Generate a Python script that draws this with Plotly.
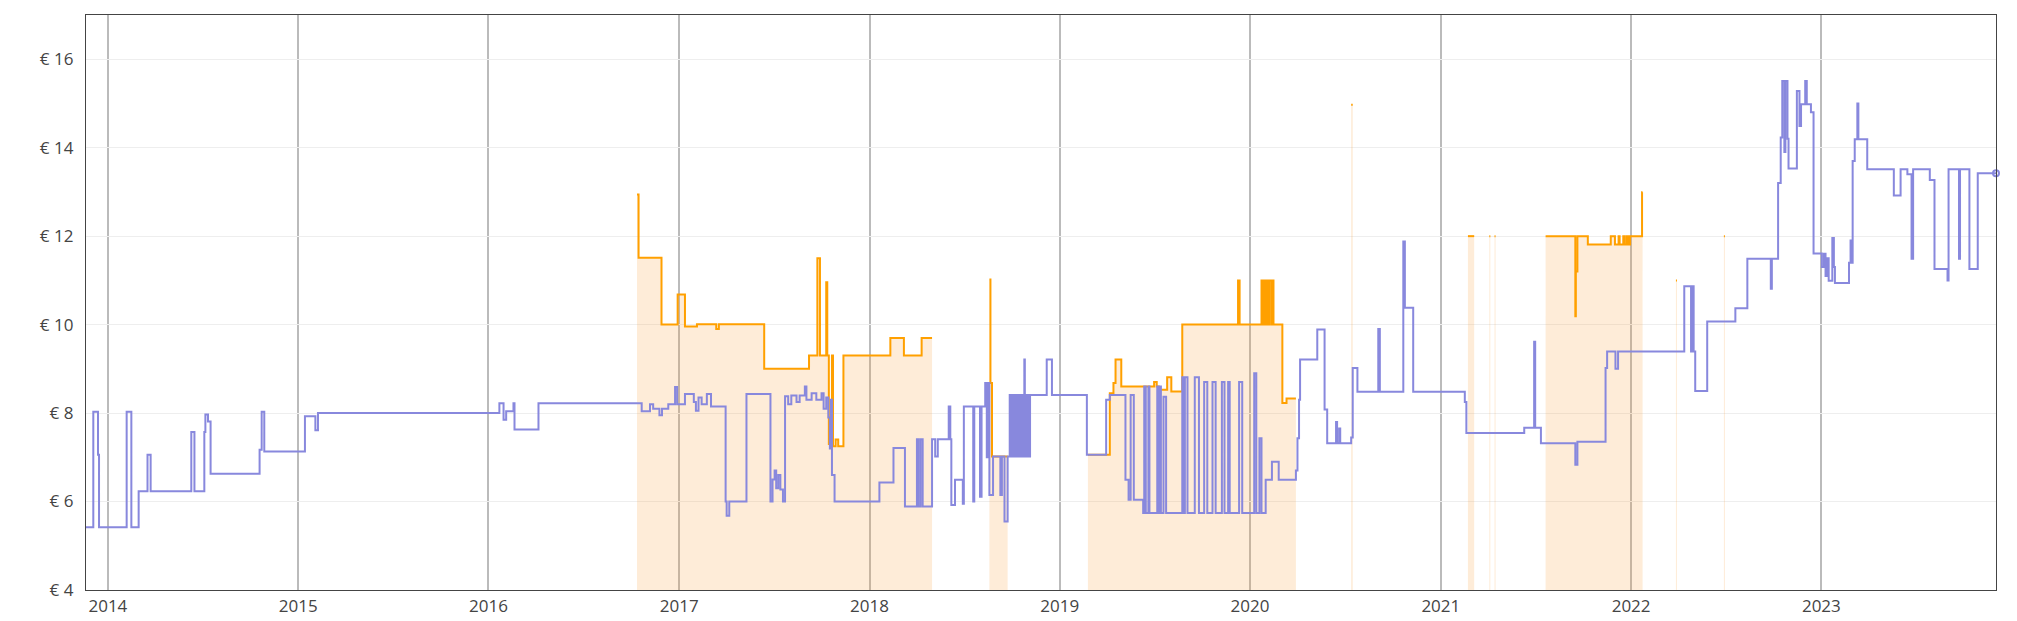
import plotly.graph_objects as go

# price history
new_dates = [
    "2013-11-20", "2013-12-04", "2013-12-13", "2013-12-15", "2014-02-06", "2014-02-15",
    "2014-03-01", "2014-03-18", "2014-03-24", "2014-06-10", "2014-06-16", "2014-07-05",
    "2014-07-07", "2014-07-12", "2014-07-17", "2014-10-19", "2014-10-23", "2014-10-28",
    "2015-01-14", "2015-02-03", "2015-02-08", "2016-01-22", "2016-01-30", "2016-02-04",
    "2016-02-18", "2016-02-20", "2016-04-06", "2016-10-21", "2016-11-06", "2016-11-12",
    "2016-11-24", "2016-11-29", "2016-12-11", "2016-12-24", "2016-12-28", "2017-01-12",
    "2017-01-29", "2017-02-02", "2017-02-07", "2017-02-13", "2017-02-23", "2017-03-03",
    "2017-03-31", "2017-04-02", "2017-04-07", "2017-05-10", "2017-06-25", "2017-06-29",
    "2017-07-03", "2017-07-06", "2017-07-10", "2017-07-14", "2017-07-19", "2017-07-23",
    "2017-07-29", "2017-08-04", "2017-08-14", "2017-08-20", "2017-08-30", "2017-09-02",
    "2017-09-12", "2017-09-21", "2017-10-01", "2017-10-05", "2017-10-10", "2017-10-14",
    "2017-10-17", "2017-10-19", "2017-10-21", "2017-10-26", "2018-01-20", "2018-02-16",
    "2018-03-10", "2018-04-02", "2018-04-05", "2018-04-09", "2018-04-13", "2018-05-01",
    "2018-05-07", "2018-05-12", "2018-06-02", "2018-06-05", "2018-06-07", "2018-06-14",
    "2018-06-29", "2018-07-01", "2018-07-19", "2018-07-21", "2018-08-01", "2018-08-04",
    "2018-08-11", "2018-08-14", "2018-08-17", "2018-08-19", "2018-08-26", "2018-09-09",
    "2018-09-12", "2018-09-17", "2018-09-23", "2018-09-27", "2018-09-29", "2018-10-01",
    "2018-10-03", "2018-10-05", "2018-10-07", "2018-10-09", "2018-10-11", "2018-10-13",
    "2018-10-15", "2018-10-17", "2018-10-19", "2018-10-21", "2018-10-23", "2018-10-25",
    "2018-10-26", "2018-10-28", "2018-10-30", "2018-11-01", "2018-11-03", "2018-11-05",
    "2018-12-07", "2018-12-17", "2019-02-22", "2019-03-31", "2019-04-07", "2019-05-07",
    "2019-05-13", "2019-05-17", "2019-05-23", "2019-06-10", "2019-06-12", "2019-06-15",
    "2019-06-20", "2019-06-22", "2019-07-07", "2019-07-10", "2019-07-12", "2019-07-14",
    "2019-07-19", "2019-07-24", "2019-08-24", "2019-08-27", "2019-08-29", "2019-09-03",
    "2019-09-17", "2019-09-25", "2019-10-05", "2019-10-11", "2019-10-21", "2019-10-27",
    "2019-11-08", "2019-11-13", "2019-11-20", "2019-11-23", "2019-12-11", "2019-12-17",
    "2020-01-09", "2020-01-13", "2020-01-19", "2020-01-23", "2020-01-31", "2020-02-12",
    "2020-02-25", "2020-03-29", "2020-04-01", "2020-04-04", "2020-04-06", "2020-05-09",
    "2020-05-23", "2020-05-28", "2020-06-14", "2020-06-16", "2020-06-20", "2020-06-22",
    "2020-07-13", "2020-07-16", "2020-07-25", "2020-09-03", "2020-09-06", "2020-10-21",
    "2020-10-24", "2020-11-09", "2021-02-16", "2021-02-19", "2021-06-10", "2021-06-29",
    "2021-07-01", "2021-07-12", "2021-09-16", "2021-09-20", "2021-11-13", "2021-11-16",
    "2021-12-02", "2021-12-07", "2022-04-13", "2022-04-26", "2022-04-28", "2022-05-01",
    "2022-05-04", "2022-05-27", "2022-07-20", "2022-08-12", "2022-09-26", "2022-09-28",
    "2022-10-10", "2022-10-15", "2022-10-18", "2022-10-22", "2022-10-24", "2022-10-28",
    "2022-10-30", "2022-11-15", "2022-11-20", "2022-11-23", "2022-12-01", "2022-12-04",
    "2022-12-12", "2022-12-17", "2023-01-02", "2023-01-06", "2023-01-09", "2023-01-12",
    "2023-01-15", "2023-01-22", "2023-01-25", "2023-01-27", "2023-02-23", "2023-02-26",
    "2023-03-01", "2023-03-02", "2023-03-06", "2023-03-11", "2023-03-13", "2023-03-30",
    "2023-05-20", "2023-06-02", "2023-06-15", "2023-06-23", "2023-06-26", "2023-07-28",
    "2023-08-06", "2023-08-31", "2023-09-02", "2023-09-22", "2023-09-24", "2023-10-12",
    "2023-10-28", "2023-12-02",
]
new_prices = [
    5.42, 8.03, 7.06, 5.42, 8.03, 5.42,
    6.23, 7.06, 6.23, 7.57, 6.23, 7.57,
    7.97, 7.81, 6.63, 7.17, 8.03, 7.13,
    7.93, 7.61, 8.00, 8.22, 7.85, 8.04,
    8.22, 7.63, 8.22, 8.04, 8.20, 8.10,
    7.95, 8.10, 8.20, 8.59, 8.20, 8.43,
    8.25, 8.05, 8.35, 8.20, 8.43, 8.15,
    6.00, 5.68, 6.00, 8.43, 6.00, 6.50,
    6.70, 6.30, 6.60, 6.27, 6.00, 8.38,
    8.20, 8.40, 8.25, 8.40, 8.60, 8.30,
    8.45, 8.30, 8.45, 8.10, 8.35, 7.90,
    7.20, 8.30, 6.60, 6.00, 6.43, 7.21,
    5.89, 7.41, 5.89, 7.41, 5.89, 7.41,
    7.02, 7.41, 8.15, 7.41, 5.92, 6.49,
    5.95, 8.15, 6.00, 8.15, 6.11, 8.15,
    8.68, 7.00, 8.68, 6.15, 7.02, 6.15,
    7.02, 5.55, 7.02, 8.41, 7.02, 8.41,
    7.02, 8.41, 7.02, 8.41, 7.02, 8.41,
    7.02, 8.41, 7.02, 8.41, 7.02, 9.21,
    7.02, 8.41, 7.02, 8.41, 7.02, 8.41,
    9.21, 8.41, 7.06, 8.30, 8.41, 6.49,
    6.04, 8.41, 6.04, 5.74, 8.60, 5.74,
    8.60, 5.74, 8.60, 5.74, 8.60, 5.74,
    8.37, 5.74, 8.81, 5.74, 8.81, 5.74,
    8.81, 5.74, 8.70, 5.74, 8.70, 5.74,
    8.70, 5.74, 8.70, 5.74, 8.70, 5.74,
    8.90, 5.74, 7.43, 5.74, 6.49, 6.90,
    6.49, 6.70, 7.43, 8.30, 9.21, 9.89,
    8.08, 7.32, 7.80, 7.32, 7.65, 7.32,
    7.45, 9.02, 8.48, 9.90, 8.48, 11.88,
    10.38, 8.48, 8.25, 7.55, 7.67, 9.61,
    7.67, 7.32, 6.83, 7.35, 9.02, 9.39,
    9.00, 9.39, 10.87, 9.39, 10.87, 9.39,
    8.50, 10.07, 10.37, 11.49, 10.81, 11.49,
    13.20, 14.23, 15.51, 13.90, 15.51, 14.20,
    13.53, 15.28, 14.49, 14.98, 15.51, 14.98,
    14.80, 11.61, 11.30, 11.60, 11.10, 11.50,
    10.99, 11.96, 11.30, 10.94, 11.40, 11.90,
    11.40, 13.70, 14.19, 15.00, 14.19, 13.51,
    12.92, 13.51, 13.40, 11.49, 13.51, 13.27,
    11.26, 11.00, 13.51, 11.49, 13.51, 11.26,
    13.42, 13.42,
]

# Amazon price, None marks the periods without an offer
amazon_dates = [
    "2016-10-12", "2016-10-15", "2016-11-28", "2016-12-29", "2017-01-12", "2017-02-04",
    "2017-03-13", "2017-03-18", "2017-06-13", "2017-09-07", "2017-09-23", "2017-09-28",
    "2017-10-10", "2017-10-12", "2017-10-15", "2017-10-21", "2017-10-23", "2017-10-28",
    "2017-11-02", "2017-11-12", "2018-02-10", "2018-03-08", "2018-04-11", "2018-05-01",
    "2018-05-02",
    "2018-08-19", "2018-08-21", "2018-08-24", "2018-09-23", "2018-09-24",
    "2019-02-24", "2019-04-07", "2019-04-14", "2019-04-18", "2019-04-29", "2019-07-01",
    "2019-07-06", "2019-07-10", "2019-07-26", "2019-08-03", "2019-08-24", "2019-12-09",
    "2019-12-12", "2020-01-23", "2020-01-25", "2020-01-28", "2020-01-31", "2020-02-02",
    "2020-02-05", "2020-02-07", "2020-02-11", "2020-02-13", "2020-02-15", "2020-03-03",
    "2020-03-11", "2020-03-29", "2020-03-30",
    "2020-07-13", "2020-07-16", "2020-07-17",
    "2021-02-22", "2021-03-06", "2021-03-07",
    "2021-04-04", "2021-04-06", "2021-04-07",
    "2021-04-14", "2021-04-16", "2021-04-17",
    "2021-07-21", "2021-09-16", "2021-09-17", "2021-09-20", "2021-10-10", "2021-11-23",
    "2021-12-01", "2021-12-08", "2021-12-10", "2021-12-17", "2021-12-20", "2021-12-24",
    "2021-12-27", "2021-12-30", "2022-01-22", "2022-01-23", "2022-01-24",
    "2022-03-28", "2022-03-30", "2022-03-31",
    "2022-06-28", "2022-06-30",
]
amazon_prices = [
    12.94, 11.51, 10.00, 10.68, 9.96, 10.01,
    9.90, 10.01, 9.00, 9.30, 11.50, 9.30,
    10.96, 9.30, 7.30, 9.30, 7.25, 7.40,
    7.25, 9.30, 9.70, 9.30, 9.70, 9.70,
    None,
    11.02, 8.68, 7.02, 7.02, None,
    7.06, 8.45, 8.68, 9.21, 8.60, 8.70,
    8.60, 8.53, 8.81, 8.49, 10.00, 11.00,
    10.00, 11.00, 10.00, 11.00, 10.00, 11.00,
    10.00, 11.00, 10.00, 11.00, 10.00, 8.23,
    8.33, 8.33, None,
    14.97, 14.97, None,
    12.00, 12.00, None,
    12.00, 12.00, None,
    12.00, 12.00, None,
    12.00, 10.19, 11.20, 12.00, 11.81, 12.00,
    11.81, 12.00, 11.81, 12.00, 11.81, 12.00,
    11.81, 12.00, 12.99, 12.99, None,
    11.00, 11.00, None,
    12.00, 12.00,
]

price_ticks = [4, 6, 8, 10, 12, 14, 16]

AMAZON = "#ffa000"
NEW = "#8888dd"

# split the Amazon series at the gaps so each offer period gets its own fill
segments = []
cur_x, cur_y = [], []
for d, p in zip(amazon_dates, amazon_prices):
    if p is None:
        if cur_x:
            segments.append((cur_x, cur_y))
        cur_x, cur_y = [], []
    else:
        cur_x.append(d)
        cur_y.append(p)
if cur_x:
    segments.append((cur_x, cur_y))

fig = go.Figure()

for xs, ys in segments:
    fig.add_trace(go.Scatter(
        x=xs, y=ys, mode="lines", line_shape="hv",
        line=dict(color=AMAZON, width=2),
        fill="tozeroy", fillcolor="rgba(250,160,60,0.2)",
        hoverinfo="skip", showlegend=False,
    ))

fig.add_trace(go.Scatter(
    x=new_dates, y=new_prices, mode="lines", line_shape="hv",
    line=dict(color=NEW, width=2),
    hoverinfo="skip", showlegend=False,
))

# end point marker
fig.add_trace(go.Scatter(
    x=[new_dates[-1]], y=[new_prices[-1]], mode="markers",
    marker=dict(symbol="circle-open", size=6, color=NEW, line=dict(width=2)),
    cliponaxis=False, hoverinfo="skip", showlegend=False,
))

fig.update_layout(
    width=2017, height=621,
    margin=dict(l=86, r=21, t=15, b=31),
    plot_bgcolor="white", paper_bgcolor="white",
    font=dict(family="Open Sans", size=17, color="#444"),
)
fig.update_xaxes(
    type="date", range=["2013-11-20", "2023-12-02"],
    dtick="M12", tick0="2014-01-01", tickformat="%Y",
    showgrid=True, gridcolor="#bbbbbb", gridwidth=1.5,
    showline=True, linecolor="#444", linewidth=1.3, mirror=True,
    ticks="", zeroline=False, ticklabelstandoff=0, automargin=False,
)
fig.update_yaxes(
    range=[4, 17], tickmode="array", tickvals=price_ticks,
    ticktext=["€ " + str(v) for v in price_ticks],
    showgrid=True, gridcolor="#eeeeee", gridwidth=1,
    showline=True, linecolor="#444", linewidth=1.3, mirror=True,
    ticks="", zeroline=False, ticklabelstandoff=8, automargin=False,
)

fig.write_html("out.html", config={"displayModeBar": False},
               post_script="document.body.style.margin='0';")
